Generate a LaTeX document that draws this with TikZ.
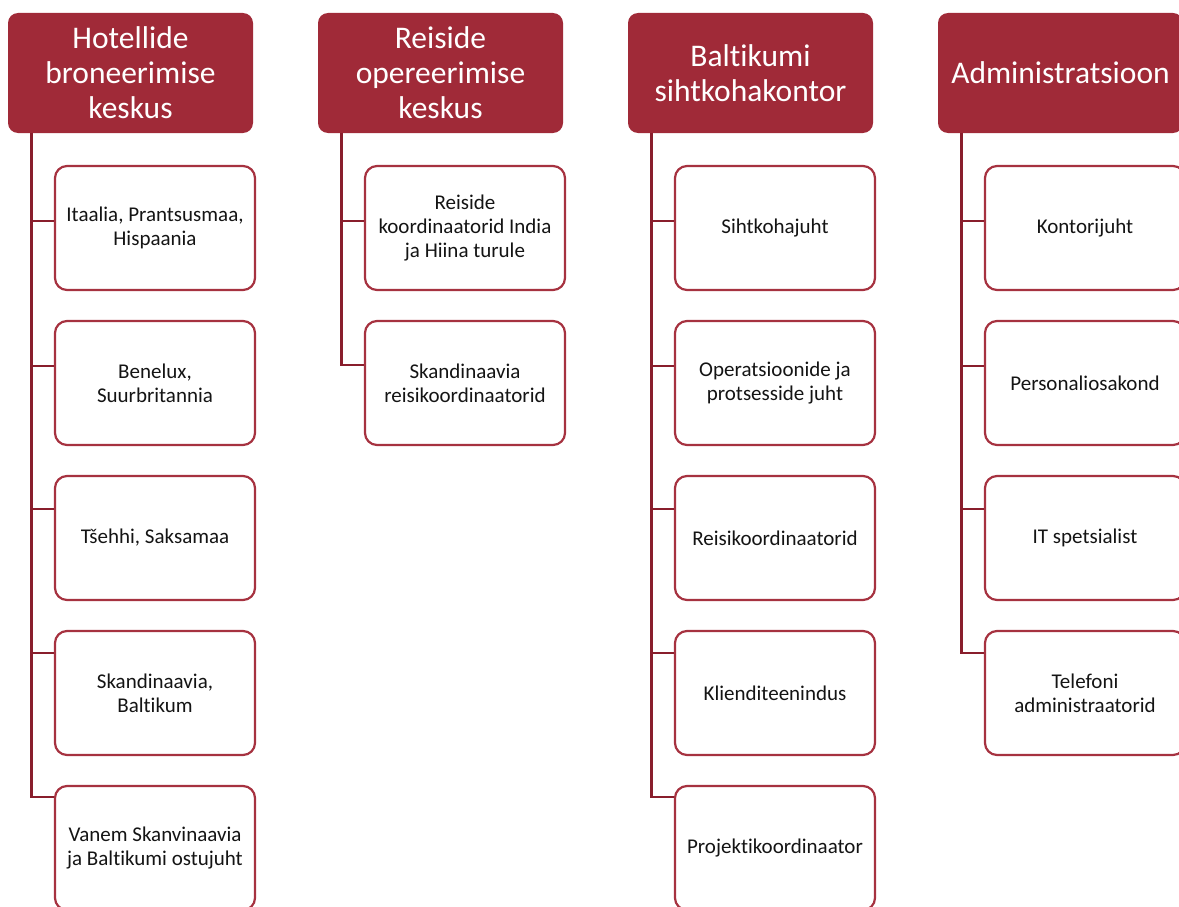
\documentclass[tikz,border=0pt]{standalone}
\usepackage{fontspec}
\setmainfont{Carlito}[Ligatures=NoCommon]
\definecolor{hdr}{RGB}{160,42,56}
\definecolor{conncol}{RGB}{137,30,44}
\definecolor{boxcol}{RGB}{166,50,64}
\definecolor{txt}{RGB}{20,20,20}
\tikzset{
  header/.style={fill=hdr, draw=none, rounded corners=10pt, minimum width=245pt, minimum height=120pt,
    text=white, align=center, inner sep=0pt, font=\fontsize{31.5}{35}\selectfont},
  child/.style={fill=white, draw=boxcol, line width=2.2pt, rounded corners=12pt, minimum width=200pt,
    minimum height=124pt, text=txt, align=center, inner sep=0pt, font=\fontsize{21}{24}\selectfont},
  conn/.style={draw=conncol, line width=2.8pt}
}
\begin{document}
\begin{tikzpicture}[x=1pt,y=-1pt]
\useasboundingbox (0,0) rectangle (1179,907);
\clip (0,0) rectangle (1179,907);
% headers
\node[header] (h1) at (130.5,73) {Hotellide\\broneerimise\\keskus};
\node[header] (h2) at (440.5,73) {Reiside\\opereerimise\\keskus};
\node[header] (h3) at (750.5,73) {Baltikumi\\sihtkohakontor};
\node[header] (h4) at (1060.5,73) {Administratsioon};
% spine start points
\coordinate (s1) at ([xshift=24pt]h1.south west);
\coordinate (s2) at ([xshift=24pt]h2.south west);
\coordinate (s3) at ([xshift=24pt]h3.south west);
\coordinate (s4) at ([xshift=24pt]h4.south west);
% column 1
\node[child] (c11) at (155,228) {Itaalia, Prantsusmaa,\\Hispaania};
\node[child] (c12) at (155,383) {Benelux,\\Suurbritannia};
\node[child] (c13) at (155,538) {Tšehhi, Saksamaa};
\node[child] (c14) at (155,693) {Skandinaavia,\\Baltikum};
\node[child] (c15) at (155,848) {Vanem Skanvinaavia\\ja Baltikumi ostujuht};
% column 2
\node[child] (c21) at (465,228) {Reiside\\koordinaatorid India\\ja Hiina turule};
\node[child] (c22) at (465,383) {Skandinaavia\\reisikoordinaatorid};
% column 3
\node[child] (c31) at (775,228) {Sihtkohajuht};
\node[child] (c32) at (775,383) {Operatsioonide ja\\protsesside juht};
\node[child] (c33) at (775,538) {Reisikoordinaatorid};
\node[child] (c34) at (775,693) {Klienditeenindus};
\node[child] (c35) at (775,848) {Projektikoordinaator};
% column 4
\node[child] (c41) at (1085,228) {Kontorijuht};
\node[child] (c42) at (1085,383) {Personaliosakond};
\node[child] (c43) at (1085,538) {IT spetsialist};
\node[child] (c44) at (1085,693) {Telefoni\\administraatorid};
% connectors
\foreach \c/\n/\d in {1/1/7,1/2/17,1/3/29,1/4/40,1/5/51,
                      2/1/7,2/2/18,
                      3/1/7,3/2/17,3/3/29,3/4/40,3/5/51,
                      4/1/7,4/2/17,4/3/29,4/4/40}{
  \draw[conn] (s\c) |- ([yshift=\d pt]c\c\n.west);
}
\end{tikzpicture}
\end{document}
